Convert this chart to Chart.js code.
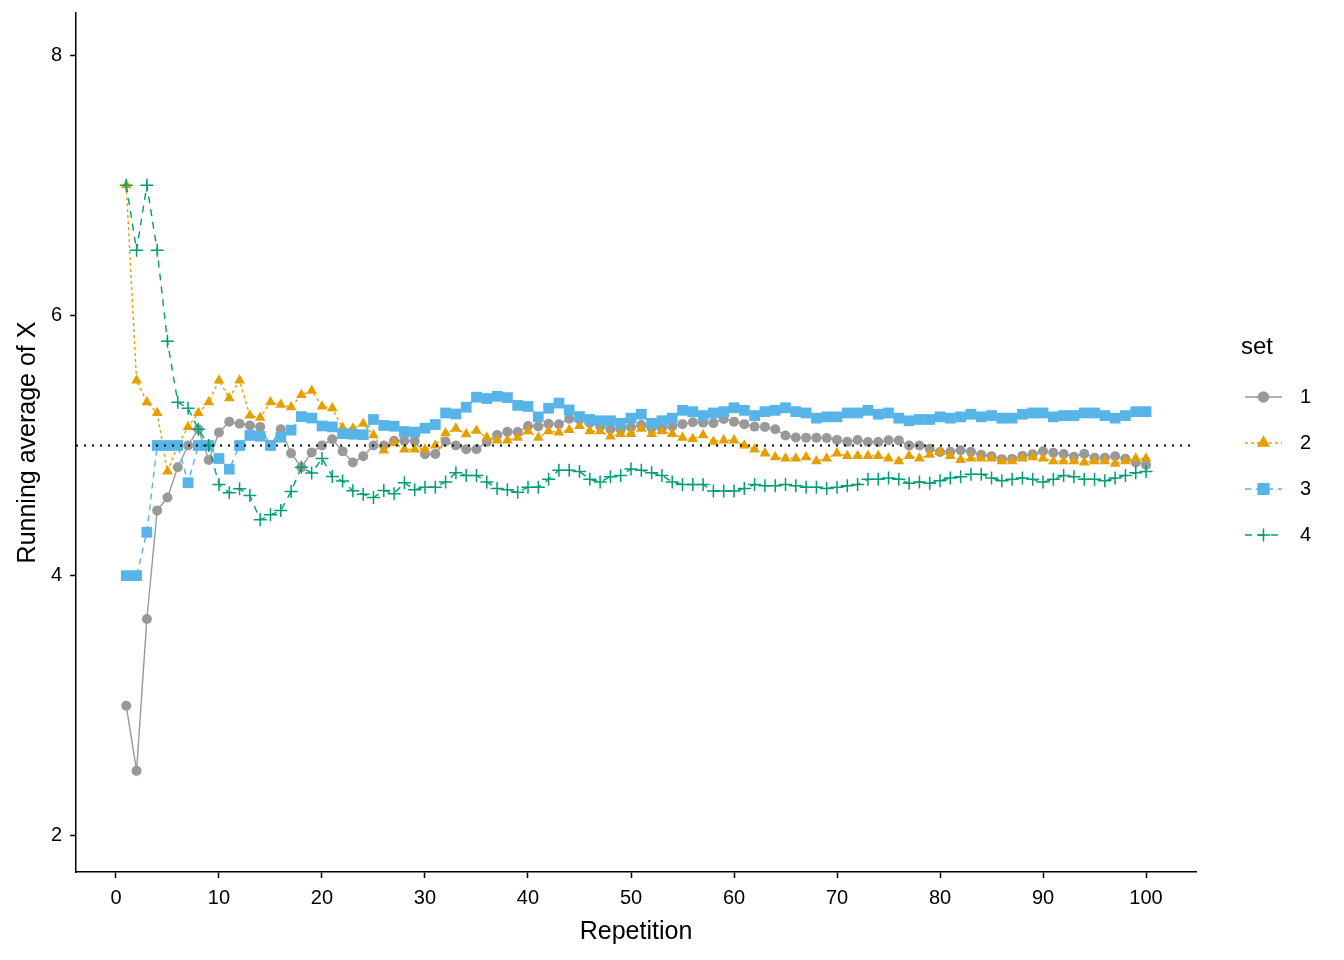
<!DOCTYPE html>
<html>
<head>
<meta charset="utf-8">
<title>Running average of X</title>
<script src="https://cdn.jsdelivr.net/npm/chart.js"></script>
<style>
    html, body { margin: 0; padding: 0; background: #fff; }
    canvas { display: block; }
</style>
</head>
<body>
<canvas id="runChart" width="1344" height="960"></canvas>
<script>
// repetitions on the x axis
const reps = [1,2,3,4,5,6,7,8,9,10,11,12,13,14,15,16,17,18,19,20,
    21,22,23,24,25,26,27,28,29,30,31,32,33,34,35,36,37,38,39,40,
    41,42,43,44,45,46,47,48,49,50,51,52,53,54,55,56,57,58,59,60,
    61,62,63,64,65,66,67,68,69,70,71,72,73,74,75,76,77,78,79,80,
    81,82,83,84,85,86,87,88,89,90,91,92,93,94,95,96,97,98,99,100];

// running averages
const set1 = [3,2.5,3.667,4.5,4.6,4.833,5,5.125,4.889,5.1,5.182,5.167,5.154,5.143,5,5.125,4.941,4.833,4.947,5,
    5.048,4.955,4.87,4.917,5,5,5.037,5.036,5.034,4.933,4.935,5.031,5,4.971,4.971,5.028,5.081,5.105,5.103,5.15,
    5.146,5.167,5.163,5.205,5.2,5.174,5.149,5.125,5.122,5.14,5.157,5.135,5.132,5.148,5.164,5.179,5.175,5.172,5.203,5.183,
    5.164,5.145,5.143,5.125,5.077,5.061,5.06,5.059,5.058,5.043,5.028,5.042,5.027,5.027,5.04,5.039,5,5,4.975,4.95,
    4.951,4.963,4.952,4.929,4.918,4.895,4.897,4.92,4.933,4.956,4.945,4.935,4.914,4.936,4.905,4.906,4.918,4.898,4.869,4.85];
const set2 = [7,5.5,5.333,5.25,4.8,5,5.143,5.25,5.333,5.5,5.364,5.5,5.231,5.214,5.333,5.313,5.294,5.389,5.421,5.3,
    5.286,5.136,5.13,5.167,5.08,4.962,5.02,4.97,4.97,4.97,5,5.094,5.13,5.088,5.114,5.06,5.04,5.04,5.06,5.11,
    5.06,5.11,5.1,5.12,5.15,5.11,5.11,5.07,5.09,5.09,5.13,5.09,5.11,5.09,5.06,5.05,5.08,5.03,5.04,5.04,
    5,4.97,4.94,4.91,4.9,4.9,4.91,4.88,4.9,4.94,4.92,4.92,4.92,4.92,4.9,4.88,4.92,4.9,4.93,4.95,
    4.92,4.89,4.9,4.9,4.9,4.88,4.88,4.9,4.91,4.9,4.88,4.88,4.88,4.87,4.88,4.88,4.86,4.88,4.9,4.9];
const set3 = [4,4,4.333,5,5,5,4.714,5,5,4.9,4.818,5,5.077,5.071,5,5.063,5.118,5.222,5.211,5.15,
    5.143,5.091,5.087,5.083,5.2,5.154,5.148,5.107,5.103,5.133,5.161,5.25,5.242,5.294,5.371,5.361,5.378,5.368,5.308,5.3,
    5.22,5.286,5.326,5.273,5.222,5.2,5.19,5.19,5.17,5.21,5.24,5.17,5.19,5.21,5.27,5.26,5.23,5.25,5.26,5.29,
    5.27,5.23,5.26,5.27,5.29,5.26,5.25,5.21,5.22,5.22,5.25,5.25,5.27,5.24,5.25,5.21,5.19,5.2,5.2,5.22,
    5.21,5.22,5.24,5.22,5.23,5.21,5.21,5.24,5.25,5.25,5.22,5.23,5.23,5.25,5.25,5.23,5.21,5.23,5.26,5.26];
const set4 = [7,6.5,7,6.5,5.8,5.333,5.286,5.125,5,4.7,4.636,4.667,4.615,4.429,4.467,4.5,4.647,4.833,4.789,4.9,
    4.762,4.727,4.652,4.625,4.6,4.654,4.63,4.714,4.66,4.68,4.68,4.72,4.79,4.77,4.77,4.72,4.67,4.66,4.64,4.68,
    4.68,4.74,4.81,4.81,4.8,4.74,4.72,4.76,4.77,4.82,4.81,4.79,4.77,4.72,4.7,4.7,4.7,4.65,4.65,4.65,
    4.67,4.7,4.69,4.69,4.7,4.69,4.68,4.68,4.67,4.68,4.69,4.7,4.74,4.74,4.75,4.74,4.71,4.72,4.71,4.73,
    4.75,4.76,4.78,4.78,4.75,4.73,4.74,4.75,4.74,4.72,4.74,4.77,4.76,4.74,4.74,4.73,4.75,4.77,4.79,4.8];

const setNames = ['1', '2', '3', '4'];
const xTicks = [0, 10, 20, 30, 40, 50, 60, 70, 80, 90, 100];
const yTicks = [2, 4, 6, 8];
const refLevel = 5; // dotted reference line

const FONT = "'Liberation Sans', Arial, sans-serif";

const styles = [
    { color: '#999999', dash: [], point: 'circle', radius: 5 },
    { color: '#E69F00', dash: [3, 3], point: 'triangle', radius: 6.2 },
    { color: '#56B4E9', dash: [6, 5], point: 'rect', radius: 7.6 },
    { color: '#009E73', dash: [7, 6], point: 'cross', radius: 6.5 }
];

const allSets = [set1, set2, set3, set4];
const datasets = allSets.map((vals, i) => ({
    label: setNames[i],
    data: reps.map((r, j) => ({ x: r, y: vals[j] })),
    borderColor: styles[i].color,
    backgroundColor: styles[i].color,
    borderWidth: 1.4,
    borderDash: styles[i].dash,
    pointStyle: styles[i].point,
    pointRadius: styles[i].radius,
    pointBorderWidth: styles[i].point === 'cross' ? 1.5 : 0,
    pointBorderColor: styles[i].color,
    tension: 0,
    order: 4 - i   // set 4 ends up on top
}));

// dotted line at the reference level, drawn over the data
const refLinePlugin = {
    id: 'refLine',
    afterDatasetsDraw(chart) {
        const { ctx, chartArea } = chart;
        const y = Math.round(chart.scales.y.getPixelForValue(refLevel)) + 0.5;
        ctx.save();
        ctx.strokeStyle = '#000';
        ctx.lineWidth = 2;
        ctx.setLineDash([2, 6]);
        ctx.beginPath();
        ctx.moveTo(chartArea.left, y);
        ctx.lineTo(chartArea.right, y);
        ctx.stroke();
        ctx.restore();
    }
};

// ggplot style legend on the right: line + marker, then label
const sideLegend = {
    id: 'sideLegend',
    afterDraw(chart) {
        const ctx = chart.ctx;
        ctx.save();
        ctx.fillStyle = '#000';
        ctx.font = '24px ' + FONT;
        ctx.textBaseline = 'middle';
        ctx.textAlign = 'left';
        ctx.fillText('set', 1241, 347);
        chart.data.datasets.forEach((ds, i) => {
            const y = 397 + i * 46;
            ctx.strokeStyle = ds.borderColor;
            ctx.lineWidth = 1.4;
            ctx.setLineDash(ds.borderDash);
            ctx.beginPath();
            ctx.moveTo(1245, y);
            ctx.lineTo(1282, y);
            ctx.stroke();
            ctx.setLineDash([]);
            ctx.fillStyle = ds.backgroundColor;
            ctx.strokeStyle = ds.borderColor;
            ctx.lineWidth = 1.5;
            Chart.helpers.drawPoint(ctx, {
                pointStyle: ds.pointStyle,
                radius: ds.pointRadius,
                borderWidth: 1.5
            }, 1263.5, y);
            ctx.fillStyle = '#000';
            ctx.font = '20px ' + FONT;
            ctx.fillText(ds.label, 1300, y);
        });
        ctx.restore();
    }
};

new Chart(document.getElementById('runChart').getContext('2d'), {
    type: 'line',
    data: { datasets },
    options: {
        responsive: false,
        animation: false,
        devicePixelRatio: 1,
        layout: { padding: { top: 13, right: 148, left: 0, bottom: 0 } },
        plugins: { legend: { display: false }, tooltip: { enabled: false } },
        scales: {
            x: {
                type: 'linear',
                min: -3.88,
                max: 104.85,
                afterBuildTicks: s => { s.ticks = xTicks.map(v => ({ value: v })); },
                afterFit: s => { s.height = 88; s.paddingLeft = 0; s.paddingRight = 0; },
                border: { color: '#000', width: 1.5 },
                grid: { drawOnChartArea: false, tickLength: 6, tickColor: '#000', tickWidth: 1.5 },
                ticks: { color: '#000', font: { family: FONT, size: 20 }, padding: 8, maxRotation: 0 },
                title: { display: true, text: 'Repetition', color: '#000', font: { family: FONT, size: 25 }, padding: { top: 0, bottom: 13 } }
            },
            y: {
                type: 'linear',
                min: 1.723,
                max: 8.323,
                afterBuildTicks: s => { s.ticks = yTicks.map(v => ({ value: v })); },
                afterFit: s => { s.width = 76; s.paddingTop = 0; s.paddingBottom = 0; },
                border: { color: '#000', width: 1.5 },
                grid: { drawOnChartArea: false, tickLength: 6, tickColor: '#000', tickWidth: 1.5 },
                ticks: { color: '#000', font: { family: FONT, size: 20 }, padding: 8 },
                title: { display: true, text: 'Running average of X', color: '#000', font: { family: FONT, size: 25 }, padding: { top: 13, bottom: 0 } }
            }
        }
    },
    plugins: [refLinePlugin, sideLegend]
});
</script>
</body>
</html>
